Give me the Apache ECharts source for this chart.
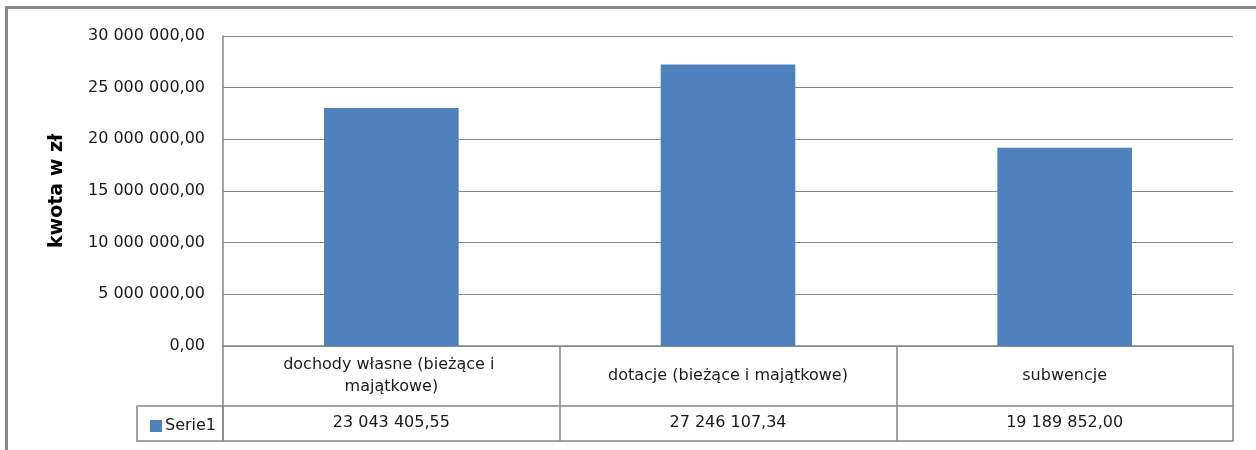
<!DOCTYPE html>
<html>
<head>
<meta charset="utf-8">
<script src="https://cdn.jsdelivr.net/npm/echarts@6/dist/echarts.min.js"></script>
<style>
html,body{margin:0;padding:0;background:#fff;}
#chart{width:1256px;height:450px;}
</style>
</head>
<body>
<div id="chart"></div>
<script>
const categories = ['dochody własne (bieżące i majątkowe)', 'dotacje (bieżące i majątkowe)', 'subwencje'];
const seriesName = 'Serie1';
const values = [23043405.55, 27246107.34, 19189852.00];
const yAxisTitle = 'kwota w zł';
const yTicks = { min: 0, max: 30000000, interval: 5000000 };

function fmt(v) {
  const parts = Number(v).toFixed(2).split('.');
  const intPart = parts[0].replace(/\B(?=(\d{3})+(?!\d))/g, ' ');
  return intPart + ',' + parts[1];
}

const FONT = '"DejaVu Sans", sans-serif';
const LINE = '#878787';
const TXT = '#1a1a1a';
const chart = echarts.init(document.getElementById('chart'));

const option = {
  animation: false,
  backgroundColor: '#ffffff',
  grid: { left: 223, right: 23, top: 36, bottom: 104, containLabel: false },
  legend: {
    data: [seriesName],
    left: 145, top: 413,
    itemWidth: 12, itemHeight: 12, itemGap: 4,
    icon: 'rect',
    textStyle: { fontFamily: FONT, fontSize: 16, color: TXT, padding: [0, 0, 0, -2] }
  },
  xAxis: [
    {
      type: 'category',
      data: categories,
      position: 'bottom',
      axisLine: { show: true, lineStyle: { color: LINE, width: 1.5 } },
      axisTick: { show: true, length: 95, alignWithLabel: false, lineStyle: { color: LINE, width: 1.5 } },
      axisLabel: {
        interval: 0, margin: 30, verticalAlign: 'middle',
        width: 290, overflow: 'break', lineHeight: 22,
        fontFamily: FONT, fontSize: 16, color: TXT
      }
    },
    {
      type: 'category',
      data: categories,
      position: 'bottom',
      offset: 60,
      axisLine: { show: true, lineStyle: { color: LINE, width: 1.5 } },
      axisTick: { show: false },
      axisLabel: {
        interval: 0, margin: 17, verticalAlign: 'middle',
        fontFamily: FONT, fontSize: 16, color: TXT,
        formatter: function (val, idx) { return fmt(values[idx]); }
      }
    },
    {
      type: 'category',
      data: categories,
      position: 'bottom',
      offset: 95,
      axisLine: { show: true, lineStyle: { color: LINE, width: 1.5 } },
      axisTick: { show: false },
      axisLabel: { show: false }
    }
  ],
  yAxis: {
    type: 'value',
    min: yTicks.min, max: yTicks.max, interval: yTicks.interval,
    name: yAxisTitle,
    nameLocation: 'middle', nameRotate: 90, nameGap: 156,
    nameTextStyle: { fontFamily: FONT, fontSize: 19, fontWeight: 'bold', color: '#000' },
    axisLine: { show: true, lineStyle: { color: LINE, width: 1.5 } },
    axisTick: { show: false },
    splitLine: { show: true, lineStyle: { color: LINE, width: 1 } },
    axisLabel: {
      margin: 18, fontFamily: FONT, fontSize: 16, color: TXT,
      formatter: function (v) { return fmt(v); }
    }
  },
  series: [{
    name: seriesName,
    type: 'bar',
    data: values,
    barWidth: '40%',
    itemStyle: { color: '#4F81BD' }
  }],
  graphic: [
    {
      type: 'rect',
      shape: { x: 6.5, y: 7.5, width: 1400, height: 600 },
      style: { fill: 'none', stroke: '#888888', lineWidth: 3 },
      silent: true, z: 0
    },
    {
      type: 'rect',
      shape: { x: 137, y: 406, width: 86, height: 35 },
      style: { fill: 'none', stroke: LINE, lineWidth: 1.5 },
      silent: true
    }
  ]
};
chart.setOption(option);
</script>
</body>
</html>
